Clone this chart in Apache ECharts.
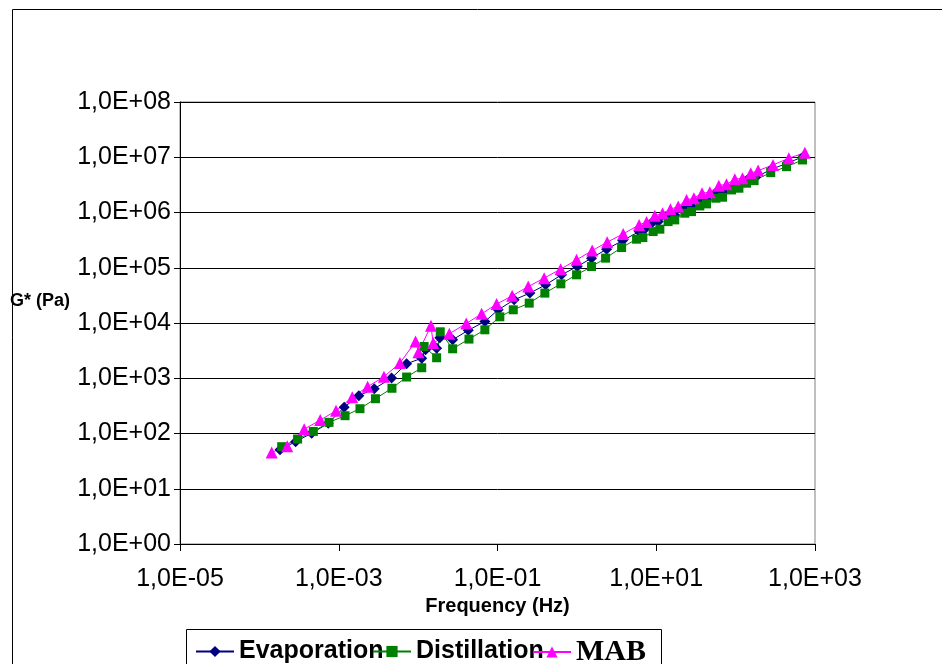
<!DOCTYPE html>
<html lang="en">

<head>
    <meta charset="UTF-8">
    <title>G* vs Frequency</title>
    <script src="https://cdn.jsdelivr.net/npm/echarts@6/dist/echarts.min.js"></script>
    <style>
        html, body { margin: 0; padding: 0; background: #fff; }
        #chart { width: 942px; height: 664px; }
    </style>
</head>

<body>
    <div id="chart"></div>

    <script>
        // values (frequency in Hz, G* in Pa)
        var evapFreq = [1.82e-4, 2.86e-4, 4.56e-4, 7.38e-4, 1.17e-3, 1.79e-3, 2.80e-3, 4.63e-3, 7.16e-3, 1.11e-2,
            1.24e-2, 1.71e-2, 1.88e-2, 2.72e-2, 4.28e-2, 6.93e-2, 0.102, 0.162, 0.256, 0.404,
            0.641, 1.01, 1.53, 2.37, 3.77, 6.09, 7.18, 8.73, 10.6, 14.1,
            17.1, 22.9, 27.8, 35.4, 43.0, 56.4, 69.7, 91.4, 113, 144,
            179, 283, 446, 708]
        var evapG = [50.9, 71.1, 101, 153, 299, 483, 646, 1009, 1829, 2301,
            3273, 3484, 5395, 4966, 7379, 10640, 17340, 26300, 34750, 49090,
            74470, 105200, 149300, 216800, 310500, 451600, 504700, 640900, 684000, 843000,
            905000, 1197000, 1279000, 1641000, 1741000, 2234000, 2388000, 2939000, 3155000, 4000000,
            4347000, 6067000, 7790000, 10250000]

        var distFreq = [1.91e-4, 3.03e-4, 4.78e-4, 7.54e-4, 1.20e-3, 1.85e-3, 2.90e-3, 4.68e-3, 7.16e-3, 1.11e-2,
            1.19e-2, 1.71e-2, 1.90e-2, 2.72e-2, 4.37e-2, 6.93e-2, 0.107, 0.158, 0.251, 0.395,
            0.628, 0.991, 1.53, 2.30, 3.66, 5.65, 6.78, 9.14, 11.1, 14.1,
            17.1, 22.9, 27.8, 35.4, 43.0, 56.4, 68.4, 88.7, 110, 137,
            171, 277, 438, 697]
        var distG = [57.7, 79.4, 109, 159, 210, 281, 426, 659, 1052, 1549,
            3758, 2350, 6934, 3414, 5117, 7534, 12940, 17340, 22910, 34750,
            51170, 74470, 105200, 149300, 231800, 328900, 351600, 451600, 499000, 684000,
            734600, 971000, 1038000, 1315000, 1432000, 1815000, 1891000, 2563000, 2750000, 3388000,
            3773000, 5270000, 6760000, 8930000]

        var mabFreq = [1.43e-4, 2.24e-4, 3.67e-4, 5.85e-4, 9.23e-4, 1.48e-3, 2.31e-3, 3.71e-3, 5.90e-3, 9.29e-3,
            1.01e-2, 1.45e-2, 1.55e-2, 2.47e-2, 4.04e-2, 6.31e-2, 9.75e-2, 0.153, 0.244, 0.387,
            0.624, 0.991, 1.56, 2.41, 3.83, 6.09, 7.55, 9.59, 12.0, 15.1,
            18.9, 24.1, 29.8, 37.8, 47.3, 61.4, 76.7, 97.7, 122, 155,
            192, 296, 468, 745]
        var mabG = [45.5, 58.5, 120, 175, 258, 453, 702, 1064, 1884, 4624,
            2951, 8895, 4335, 6383, 9795, 14660, 21980, 31040, 45710, 64860,
            94400, 139000, 204600, 290400, 410200, 597000, 676000, 869000, 971000, 1148000,
            1279000, 1690000, 1815000, 2234000, 2328000, 3063000, 3251000, 4000000, 4170000, 5140000,
            5727000, 7260000, 9590000, 12110000]

        var seriesNames = ['Evaporation', 'Distillation', 'MAB']

        function pairs(xs, ys) {
            return xs.map(function (x, i) { return [x, ys[i]] })
        }

        // 1,0E+03 style labels
        function sciLabel(v) {
            var e = Math.round(Math.log10(v))
            var s = Math.abs(e) < 10 ? '0' + Math.abs(e) : '' + Math.abs(e)
            return '1,0E' + (e < 0 ? '-' : '+') + s
        }

        var font = 'Arial, "Liberation Sans", sans-serif'

        var mCharts = echarts.init(document.getElementById('chart'), null, { renderer: 'canvas' })
        var option = {
            animation: false,
            backgroundColor: '#fff',
            grid: {
                left: 180, right: 127, top: 102, bottom: 120,
                show: true, borderColor: '#808080', borderWidth: 1
            },
            graphic: [
                {
                    type: 'rect', left: 10, top: 7, z: -1,
                    shape: { width: 930, height: 700 },
                    style: { fill: 'none', stroke: '#000', lineWidth: 1 }
                },
                {
                    type: 'rect', left: 186, top: 629,
                    shape: { width: 475, height: 60 },
                    style: { fill: '#fff', stroke: '#000', lineWidth: 1 }
                },
                {
                    type: 'text', left: 10, top: 292,
                    style: { text: 'G* (Pa)', font: 'bold 18px ' + font, fill: '#000' }
                }
            ],
            xAxis: {
                type: 'log',
                min: 1e-5, max: 1e3,
                interval: 2,
                name: 'Frequency (Hz)',
                nameLocation: 'middle',
                nameGap: 50,
                nameTextStyle: { fontFamily: font, fontWeight: 'bold', fontSize: 20, color: '#000' },
                axisLine: { lineStyle: { color: '#000', width: 1 } },
                axisTick: { show: true, length: 7, lineStyle: { color: '#000' } },
                axisLabel: {
                    fontFamily: font, fontSize: 25, color: '#000', margin: 23,
                    formatter: function (v) {
                        var e = Math.round(Math.log10(v))
                        return (e % 2 !== 0) ? sciLabel(v) : ''
                    }
                },
                splitLine: { show: false },
                minorTick: { show: false }
            },
            yAxis: {
                type: 'log',
                min: 1, max: 1e8,
                splitNumber: 8,
                axisLine: { show: true, lineStyle: { color: '#000', width: 1 } },
                axisTick: { show: true, length: 6, lineStyle: { color: '#000' } },
                axisLabel: { fontFamily: font, fontSize: 25, color: '#000', margin: 9, formatter: sciLabel },
                splitLine: { show: true, lineStyle: { color: '#000', width: 1 } }
            },
            legend: [
                {
                    left: 195, top: 639, padding: 0, itemWidth: 38, itemHeight: 14,
                    data: [{ name: 'Evaporation', textStyle: { fontFamily: font, fontWeight: 'bold', fontSize: 25, color: '#000' } }]
                },
                {
                    left: 372, top: 639, padding: 0, itemWidth: 38, itemHeight: 14,
                    data: [{ name: 'Distillation', textStyle: { fontFamily: font, fontWeight: 'bold', fontSize: 25, color: '#000' } }]
                },
                {
                    left: 532, top: 637, padding: 0, itemWidth: 38, itemHeight: 14,
                    data: [{ name: 'MAB', textStyle: { fontFamily: '"Times New Roman", "Liberation Serif", serif', fontWeight: 'bold', fontSize: 30, color: '#000' } }]
                }
            ],
            series: [
                {
                    name: seriesNames[0], type: 'line', data: pairs(evapFreq, evapG),
                    symbol: 'diamond', symbolSize: 11, showAllSymbol: true,
                    itemStyle: { color: '#000080' }, lineStyle: { color: '#000080', width: 1 }
                },
                {
                    name: seriesNames[1], type: 'line', data: pairs(distFreq, distG),
                    symbol: 'rect', symbolSize: 9, showAllSymbol: true,
                    itemStyle: { color: '#008000' }, lineStyle: { color: '#008000', width: 1 }
                },
                {
                    name: seriesNames[2], type: 'line', data: pairs(mabFreq, mabG),
                    symbol: 'triangle', symbolSize: 12, showAllSymbol: true,
                    itemStyle: { color: '#FF00FF' }, lineStyle: { color: '#FF00FF', width: 1 }
                }
            ]
        }
        mCharts.setOption(option)
    </script>
</body>

</html>
